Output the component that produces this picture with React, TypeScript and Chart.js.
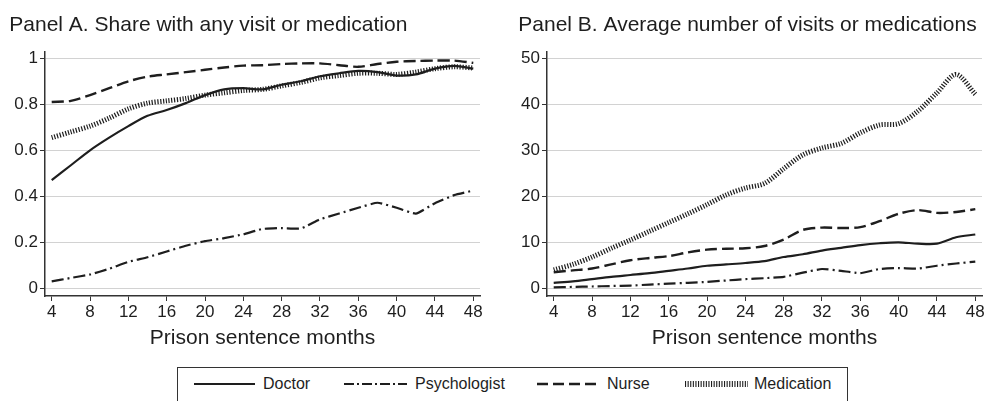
import React, { useEffect, useRef } from "react";
import { Chart, registerables } from "chart.js";

Chart.register(...registerables);

const FONT = "'Liberation Sans', Arial, Helvetica, sans-serif";
const INK = "#1e1e1e";

const months = [4, 6, 8, 10, 12, 14, 16, 18, 20, 22, 24, 26, 28, 30, 32, 34, 36, 38, 40, 42, 44, 46, 48];
const xTicks = [4, 8, 12, 16, 20, 24, 28, 32, 36, 40, 44, 48];
const yTicksA = [0, 0.2, 0.4, 0.6, 0.8, 1];
const yTicksB = [0, 10, 20, 30, 40, 50];

// Panel A: share with any visit or medication
const doctorShare = [0.47, 0.535, 0.6, 0.655, 0.705, 0.75, 0.775, 0.805, 0.84, 0.865, 0.87, 0.865, 0.885, 0.9, 0.922, 0.935, 0.945, 0.94, 0.925, 0.93, 0.955, 0.967, 0.955];
const psychShare = [0.03, 0.045, 0.06, 0.085, 0.115, 0.135, 0.16, 0.185, 0.205, 0.218, 0.235, 0.258, 0.262, 0.26, 0.3, 0.325, 0.35, 0.372, 0.35, 0.325, 0.37, 0.405, 0.425];
const nurseShare = [0.81, 0.815, 0.84, 0.87, 0.9, 0.92, 0.93, 0.94, 0.95, 0.96, 0.968, 0.97, 0.975, 0.978, 0.978, 0.97, 0.963, 0.975, 0.985, 0.988, 0.99, 0.99, 0.98];
const medShare = [0.655, 0.68, 0.705, 0.74, 0.78, 0.805, 0.815, 0.825, 0.84, 0.85, 0.86, 0.865, 0.88, 0.895, 0.915, 0.925, 0.935, 0.935, 0.93, 0.94, 0.955, 0.963, 0.958];

// Panel B: average number of visits or medications
const doctorCount = [1.2, 1.5, 2.0, 2.5, 2.9, 3.3, 3.8, 4.3, 4.9, 5.2, 5.5, 5.9, 6.8, 7.4, 8.2, 8.8, 9.4, 9.8, 10.0, 9.7, 9.7, 11.1, 11.7];
const psychCount = [0.2, 0.3, 0.4, 0.5, 0.6, 0.8, 1.0, 1.2, 1.4, 1.7, 2.0, 2.2, 2.5, 3.4, 4.2, 3.8, 3.3, 4.2, 4.4, 4.3, 4.9, 5.4, 5.8];
const nurseCount = [3.5, 3.9, 4.3, 5.2, 6.1, 6.6, 7.0, 7.8, 8.4, 8.6, 8.7, 9.2, 10.6, 12.7, 13.2, 13.1, 13.3, 14.6, 16.2, 17.0, 16.4, 16.6, 17.2];
const medCount = [4.0, 5.2, 6.8, 8.7, 10.5, 12.4, 14.3, 16.2, 18.2, 20.3, 21.8, 22.8, 26.0, 29.0, 30.5, 31.5, 33.8, 35.5, 35.8, 38.5, 42.5, 46.5, 42.2];

const seriesNames = ["Doctor", "Psychologist", "Nurse", "Medication"];
const seriesStyles = [
  { width: 2.2, dash: [] as number[], tension: 0.3 },
  { width: 2.2, dash: [12, 4, 2, 4], tension: 0.15 },
  { width: 2.4, dash: [12, 5], tension: 0.3 },
  { width: 5, dash: [1.2, 1.6], tension: 0.3 },
];

function makeDatasets(values: number[][]) {
  return values.map((vals, i) => ({
    label: seriesNames[i],
    data: months.map((m, j) => ({ x: m, y: vals[j] })),
    borderColor: INK,
    backgroundColor: INK,
    borderWidth: seriesStyles[i].width,
    borderDash: seriesStyles[i].dash,
    borderCapStyle: "butt" as const,
    tension: seriesStyles[i].tension,
    pointRadius: 0,
    fill: false,
  }));
}

type PanelCfg = {
  title: string;
  values: number[][];
  yTicks: number[];
  yMin: number;
  yMax: number;
  padLeft: number;
  padRight: number;
  yWidth: number;
  width: number;
};

function buildConfig(p: PanelCfg): any {
  return {
    type: "line",
    data: { datasets: makeDatasets(p.values) },
    options: {
      animation: false,
      responsive: false,
      layout: { padding: { left: p.padLeft, right: p.padRight, top: 0, bottom: 9.4 } },
      plugins: {
        legend: { display: false },
        tooltip: { enabled: false },
        title: {
          display: true,
          text: p.title,
          align: "start",
          color: INK,
          font: { family: FONT, size: 21, weight: "normal", lineHeight: 1.2 },
          padding: { top: 12.4, bottom: 14.1 },
        },
      },
      scales: {
        x: {
          type: "linear",
          min: 3.3,
          max: 48.7,
          afterBuildTicks: (s: any) => {
            s.ticks = xTicks.map((v) => ({ value: v }));
          },
          afterFit: (s: any) => {
            s.height = 54.6;
          },
          grid: { drawOnChartArea: false, drawTicks: true, tickLength: 5, color: "#333", lineWidth: 1 },
          border: { display: true, color: "#333", width: 1.5 },
          ticks: {
            font: { family: FONT, size: 17 },
            color: INK,
            padding: 1,
            maxRotation: 0,
            autoSkip: false,
            callback: (v: any) => String(v),
          },
          title: {
            display: true,
            text: "Prison sentence months",
            color: INK,
            font: { family: FONT, size: 21, lineHeight: 1.2 },
            padding: { top: 0, bottom: 0 },
          },
        },
        y: {
          type: "linear",
          min: p.yMin,
          max: p.yMax,
          afterBuildTicks: (s: any) => {
            s.ticks = p.yTicks.map((v) => ({ value: v }));
          },
          afterFit: (s: any) => {
            s.width = p.yWidth;
          },
          grid: { color: "#d2d2d2", lineWidth: 1, drawTicks: true, tickLength: 5, tickColor: "#333" },
          border: { display: true, color: "#333", width: 1.5 },
          ticks: {
            font: { family: FONT, size: 17 },
            color: INK,
            padding: 2,
            autoSkip: false,
            callback: (v: any) => String(+Number(v).toFixed(2)),
          },
        },
      },
    },
  };
}

function Panel(props: { cfg: PanelCfg; left: number }) {
  const ref = useRef<HTMLCanvasElement>(null);
  useEffect(() => {
    if (!ref.current) return;
    const chart = new Chart(ref.current, buildConfig(props.cfg));
    return () => chart.destroy();
  }, []);
  return (
    <canvas
      ref={ref}
      width={props.cfg.width}
      height={360}
      style={{ position: "absolute", left: props.left, top: 0, width: props.cfg.width, height: 360 }}
    />
  );
}

const panelA: PanelCfg = {
  title: "Panel A. Share with any visit or medication",
  values: [doctorShare, psychShare, nurseShare, medShare],
  yTicks: yTicksA,
  yMin: -0.0335,
  yMax: 1.0287,
  padLeft: 9.3,
  padRight: 10,
  yWidth: 35.7,
  width: 490,
};

const panelB: PanelCfg = {
  title: "Panel B. Average number of visits or medications",
  values: [doctorCount, psychCount, nurseCount, medCount],
  yTicks: yTicksB,
  yMin: -1.67,
  yMax: 51.43,
  padLeft: 28.3,
  padRight: 7,
  yWidth: 28.7,
  width: 499,
};

const legendItems = [
  { name: "Doctor", x1: 194, x2: 255, tx: 263, width: 2.2, dash: "" },
  { name: "Psychologist", x1: 344, x2: 407, tx: 415, width: 2.2, dash: "10 3 2 3" },
  { name: "Nurse", x1: 537, x2: 600, tx: 607, width: 2.4, dash: "11 5" },
  { name: "Medication", x1: 685, x2: 748, tx: 754, width: 6, dash: "1.1 1.5" },
];

export default function App() {
  return (
    <div
      style={{
        position: "absolute",
        left: 0,
        top: 0,
        width: 989,
        height: 401,
        overflow: "hidden",
        background: "#fff",
      }}
    >
      <Panel cfg={panelA} left={0} />
      <Panel cfg={panelB} left={490} />
      <div
        style={{
          position: "absolute",
          left: 177,
          top: 367,
          width: 671,
          height: 50,
          border: "1px solid #333",
          boxSizing: "border-box",
        }}
      />
      {legendItems.map((it) => (
        <React.Fragment key={it.name}>
          <svg
            style={{ position: "absolute", left: it.x1, top: 377, overflow: "visible" }}
            width={it.x2 - it.x1}
            height={14}
          >
            <line
              x1={0}
              y1={7}
              x2={it.x2 - it.x1}
              y2={7}
              stroke={INK}
              strokeWidth={it.width}
              strokeDasharray={it.dash || undefined}
            />
          </svg>
          <div
            style={{
              position: "absolute",
              left: it.tx,
              top: 374,
              fontFamily: FONT,
              fontSize: 16,
              lineHeight: "20px",
              color: INK,
              whiteSpace: "nowrap",
            }}
          >
            {it.name}
          </div>
        </React.Fragment>
      ))}
    </div>
  );
}
